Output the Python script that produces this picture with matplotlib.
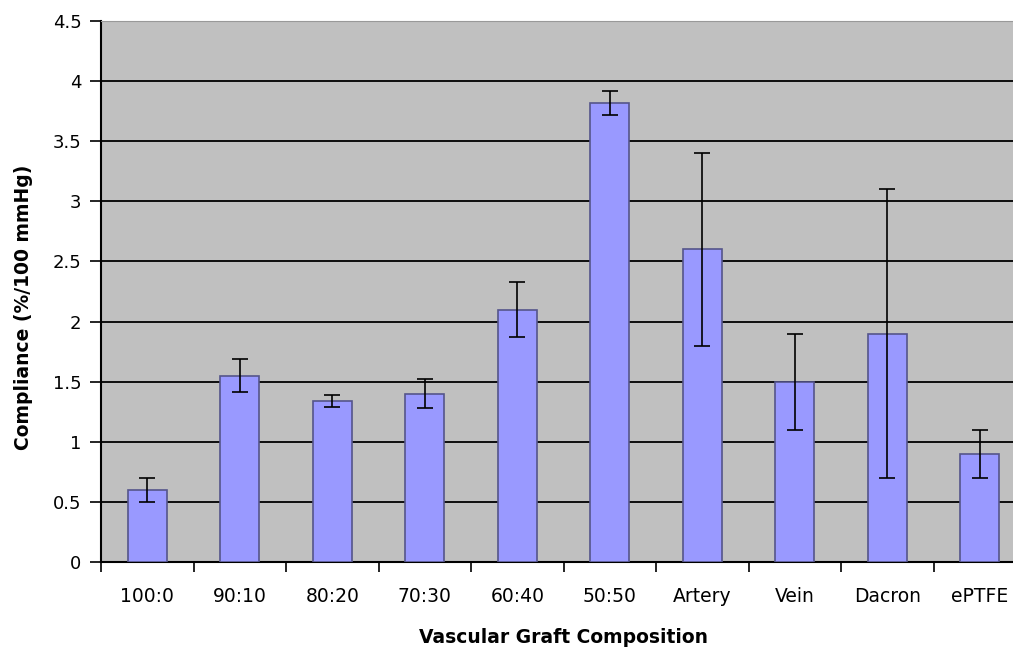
import matplotlib
matplotlib.use("Agg")
import matplotlib.pyplot as plt
import numpy as np

categories = ["100:0", "90:10", "80:20", "70:30", "60:40", "50:50", "Artery", "Vein", "Dacron", "ePTFE"]
compliance = [0.60, 1.55, 1.34, 1.40, 2.10, 3.82, 2.60, 1.50, 1.90, 0.90]
errors = [0.10, 0.14, 0.05, 0.12, 0.23, 0.10, 0.80, 0.40, 1.20, 0.20]
yticks = [0, 0.5, 1, 1.5, 2, 2.5, 3, 3.5, 4, 4.5]
ytick_labels = ["0", "0.5", "1", "1.5", "2", "2.5", "3", "3.5", "4", "4.5"]

plt.rcParams['font.family'] = ['DejaVu Sans']

fig = plt.figure(figsize=(10.13, 6.48), dpi=100)
ax = fig.add_axes([101/1013, 86/648, 925/1013, 541/648])
ax.set_facecolor("#C0C0C0")

x = np.arange(len(categories))
ax.set_axisbelow(True)
ax.yaxis.grid(True, color="black", linewidth=1.3)
ax.bar(x, compliance, width=0.42, color="#9999FF", edgecolor="#55558a", linewidth=1.2,
       yerr=errors, capsize=5.5, error_kw=dict(elinewidth=1.2, capthick=1.2, ecolor="black"), zorder=3)

ax.set_xlim(-0.5, len(categories) - 0.5)
ax.set_ylim(0, 4.5)
ax.set_yticks(yticks)
ax.set_yticklabels(ytick_labels, fontsize=13)
ax.set_xticks(x)
ax.set_xticklabels(categories, fontsize=13.5)
ax.tick_params(axis='x', length=0, pad=18)
ax.set_xticks(np.arange(-0.5, len(categories), 1), minor=True)
ax.tick_params(axis='x', which='minor', length=7, width=1.2, direction='out')
ax.tick_params(axis='y', length=8, width=1.2, direction='out', pad=6)

for s in ["left", "bottom"]:
    ax.spines[s].set_linewidth(1.5)
    ax.spines[s].set_color("black")
ax.spines["top"].set_color("#999999")
ax.spines["right"].set_visible(False)

ax.set_xlabel("Vascular Graft Composition", fontsize=13.5, fontweight="bold", labelpad=16)
ax.set_ylabel("Compliance (%/100 mmHg)", fontsize=13.5, fontweight="bold")
ax.yaxis.set_label_coords(-0.073, 0.47)

fig.savefig("out.png", dpi=100)
